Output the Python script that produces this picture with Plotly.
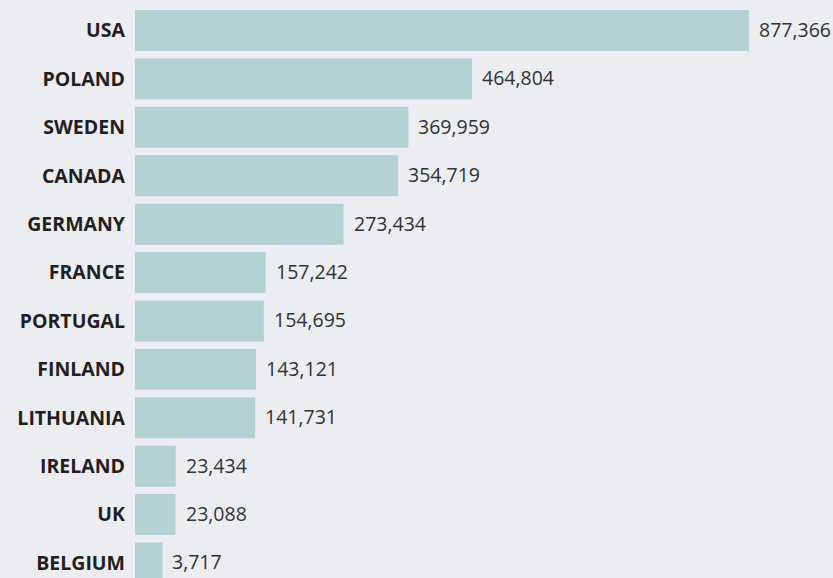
import plotly.graph_objects as go

countries = ["USA", "POLAND", "SWEDEN", "CANADA", "GERMANY", "FRANCE", "PORTUGAL",
             "FINLAND", "LITHUANIA", "IRELAND", "UK", "BELGIUM"]
values = [877366, 464804, 369959, 354719, 273434, 157242, 154695,
          143121, 141731, 23434, 23088, 3717]
labels = [f"{v:,}" for v in values]

AXIS_START = -37240  # axis begins a bit left of zero, as in the original
AXIS_END = 1002530

fig = go.Figure()
fig.add_trace(go.Bar(
    y=countries,
    x=[v - AXIS_START for v in values],
    base=AXIS_START,
    orientation="h",
    marker=dict(color="#b4d1d4", line=dict(width=0)),
    hoverinfo="skip",
))

for c, v, t in zip(countries, values, labels):
    fig.add_annotation(x=v, y=c, text=t, showarrow=False, xanchor="left",
                       xshift=8, yshift=1,
                       font=dict(family="Open Sans", size=19.5, color="#333333"))

fig.update_layout(
    width=833, height=578,
    margin=dict(l=135, r=0, t=0, b=0),
    paper_bgcolor="#ecedf0", plot_bgcolor="#ecedf0",
    bargap=0.153,
    showlegend=False,
    font=dict(family="Open Sans", size=19.5, color="#231f20"),
    xaxis=dict(range=[AXIS_START, AXIS_END], visible=False, showgrid=False, zeroline=False),
    yaxis=dict(range=[11.31, -0.63], showgrid=False, zeroline=False, showline=False,
               ticklabelstandoff=9,
               tickfont=dict(family="Open Sans", size=19.5, color="#231f20", weight="bold")),
)

fig.write_html("out.html", config={"displayModeBar": False},
               post_script="document.body.style.margin='0';document.body.style.background='#ecedf0';")
